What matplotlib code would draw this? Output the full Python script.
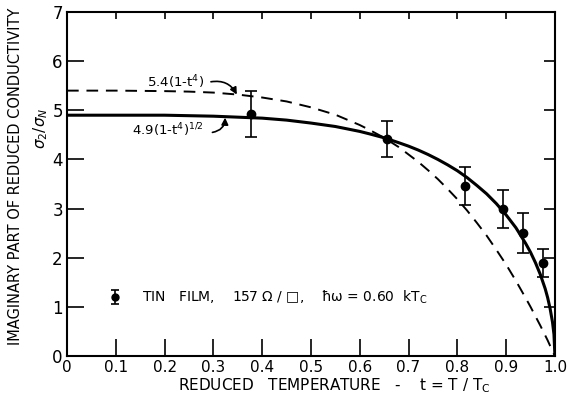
import matplotlib
matplotlib.use('Agg')
import matplotlib.pyplot as plt

# measured points (reduced temperature, sigma2/sigmaN, error)
t_data = [0.378, 0.655, 0.815, 0.893, 0.934, 0.975]
s_data = [4.93, 4.41, 3.46, 2.99, 2.50, 1.89]
s_err = [0.47, 0.37, 0.39, 0.38, 0.40, 0.29]

# theory curves
t_curve = [0.0, 0.1, 0.2, 0.25, 0.3, 0.35, 0.4, 0.45, 0.5, 0.55, 0.6, 0.62, 0.65,
           0.68, 0.7, 0.72, 0.74, 0.76, 0.78, 0.8, 0.82, 0.84, 0.86, 0.88, 0.9,
           0.92, 0.94, 0.95, 0.96, 0.97, 0.98, 0.985, 0.99, 0.995, 0.998, 1.0]
solid_vals = [4.90, 4.90, 4.90, 4.89, 4.88, 4.86, 4.84, 4.80, 4.74, 4.67, 4.57, 4.52, 4.44,
              4.34, 4.27, 4.19, 4.10, 4.00, 3.89, 3.77, 3.63, 3.47, 3.30, 3.10, 2.87,
              2.61, 2.29, 2.11, 1.90, 1.66, 1.37, 1.19, 0.97, 0.69, 0.44, 0.0]
dashed_vals = [5.40, 5.40, 5.39, 5.38, 5.36, 5.32, 5.26, 5.18, 5.06, 4.91, 4.70, 4.60, 4.44,
               4.25, 4.10, 3.95, 3.78, 3.60, 3.40, 3.19, 2.96, 2.71, 2.45, 2.16, 1.86,
               1.53, 1.18, 1.00, 0.81, 0.62, 0.42, 0.32, 0.21, 0.11, 0.04, 0.0]

x_ticks = [0, 0.1, 0.2, 0.3, 0.4, 0.5, 0.6, 0.7, 0.8, 0.9, 1.0]
x_labels = ['0', '0.1', '0.2', '0.3', '0.4', '0.5', '0.6', '0.7', '0.8', '0.9', '1.0']
y_ticks = [0, 1, 2, 3, 4, 5, 6, 7]

fig = plt.figure(figsize=(5.68, 4.0), dpi=100)
ax = fig.add_axes([0.118, 0.11, 0.859, 0.86])

ax.plot(t_curve, solid_vals, color='black', linewidth=2.2, solid_joinstyle='round')
ax.plot(t_curve, dashed_vals, color='black', linewidth=1.4, dashes=(6, 4))
ax.errorbar(t_data, s_data, yerr=s_err, fmt='o', color='black', markersize=6,
            elinewidth=1.2, capsize=4, capthick=1.2)

# legend marker and text
ax.errorbar([0.098], [1.20], yerr=[0.15], fmt='o', color='black', markersize=5,
            elinewidth=1.2, capsize=3, capthick=1.2)
ax.text(0.153, 1.20, 'TIN   FILM,    157 Ω / □,    ħω = 0.60  kT$_\\mathrm{C}$',
        fontsize=10, va='center', ha='left')

# curve labels
ax.text(0.223, 5.57, '5.4(1-t$^4$)', fontsize=9.5, ha='center', va='center')
ax.text(0.207, 4.60, '4.9(1-t$^4$)$^{1/2}$', fontsize=9.5, ha='center', va='center')
arrow = dict(arrowstyle='-|>', color='black', lw=1.2, mutation_scale=10,
             shrinkA=0, shrinkB=0)
ax.annotate('', xy=(0.348, 5.32), xytext=(0.295, 5.58),
            arrowprops=dict(arrow, connectionstyle='arc3,rad=-0.35'))
ax.annotate('', xy=(0.324, 4.85), xytext=(0.298, 4.55),
            arrowprops=dict(arrow, connectionstyle='arc3,rad=0.4'))

ax.set_xlim(0, 1.0)
ax.set_ylim(0, 7)
ax.set_xticks(x_ticks)
ax.set_xticklabels(x_labels)
ax.set_yticks(y_ticks)
ax.tick_params(axis='both', direction='in', length=12, width=1.2, labelsize=12, pad=3)
ax.tick_params(axis='x', labelsize=11)
ax.tick_params(top=True, right=True)

# top ticks short, right ticks medium
for t in ax.xaxis.get_major_ticks():
    t.tick2line.set_markersize(5)
for t in ax.yaxis.get_major_ticks():
    t.tick2line.set_markersize(8)

for s in ax.spines.values():
    s.set_linewidth(1.5)

fig.text(0.588, 0.037, 'REDUCED   TEMPERATURE   -    t = T / T$_\\mathrm{C}$',
         fontsize=11, ha='center', va='center')
fig.text(0.027, 0.56, 'IMAGINARY PART OF REDUCED CONDUCTIVITY', rotation=90,
         fontsize=10.5, ha='center', va='center')
fig.text(0.072, 0.68, '$\\sigma_2/\\sigma_N$', rotation=90,
         fontsize=11, ha='center', va='center')

fig.savefig('out.png', dpi=100)
